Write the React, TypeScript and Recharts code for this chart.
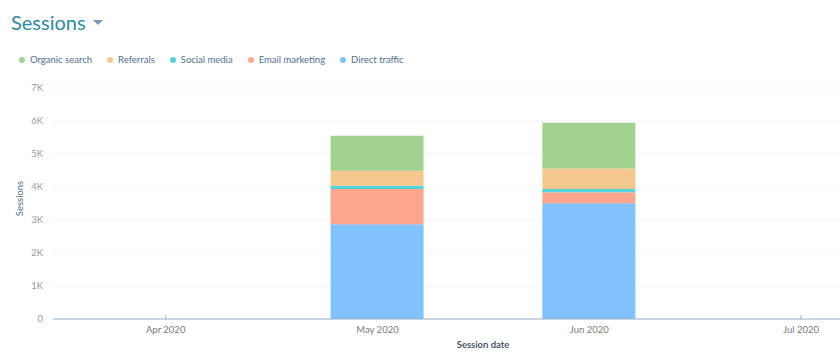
import React from 'react';
import { Bar, BarChart, CartesianGrid, XAxis, YAxis } from 'recharts';

const months = ['Apr 2020', 'May 2020', 'Jun 2020', 'Jul 2020'];
const monthIndex = [0, 1, 2, 3];
const directTraffic = [0, 2870, 3510, 0];
const emailMarketing = [0, 1070, 330, 0];
const socialMedia = [0, 100, 100, 0];
const referrals = [0, 450, 620, 0];
const organicSearch = [0, 1060, 1390, 0];
const yTicks = [0, 1000, 2000, 3000, 4000, 5000, 6000, 7000];

// stacking order, bottom to top
const series = [
  { key: 'direct', name: 'Direct traffic', color: '#81c1fd', values: directTraffic },
  { key: 'email', name: 'Email marketing', color: '#fea58e', values: emailMarketing },
  { key: 'social', name: 'Social media', color: '#51d3d9', values: socialMedia },
  { key: 'referrals', name: 'Referrals', color: '#f5c78e', values: referrals },
  { key: 'organic', name: 'Organic search', color: '#a2d28f', values: organicSearch },
];

const data = monthIndex.map((m, i) => {
  const row: Record<string, number> = { m };
  series.forEach((s) => {
    row[s.key] = s.values[i];
  });
  return row;
});

const font = 'Lato, "Open Sans", sans-serif';

const XTick = (props: any) => {
  const { x, y, payload } = props;
  return (
    <g>
      <line x1={x} x2={x} y1={y - 14} y2={y - 10} stroke="#99afc4" />
      <text x={x} y={y + 4} textAnchor="middle" fill="#7a7a7a" fontSize={9.5} fontFamily={font}>
        {months[payload.value]}
      </text>
    </g>
  );
};

const App: React.FC = () => {
  return (
    <div style={{ position: 'absolute', left: 0, top: 0, width: 840, height: 359, background: '#fff', fontFamily: font }}>
      <div style={{ position: 'absolute', left: 11, top: 9, fontSize: 20, color: '#2e8b9f', fontWeight: 400, lineHeight: '26px' }}>
        Sessions
        <svg width={12} height={8} style={{ marginLeft: 7, verticalAlign: 'middle', marginTop: -4 }}>
          <polygon points="0,1 10,1 5,6" fill="#7c98b6" />
        </svg>
      </div>
      <div style={{ position: 'absolute', left: 19, top: 53, display: 'flex', fontSize: 9.5, color: '#516f90', lineHeight: '14px' }}>
        {[...series].reverse().map((s) => (
          <div key={s.key} style={{ display: 'flex', alignItems: 'center', marginRight: 15 }}>
            <span style={{ width: 6, height: 6, borderRadius: 3, background: s.color, marginRight: 5 }} />
            {s.name}
          </div>
        ))}
      </div>
      <BarChart width={840} height={359} data={data} margin={{ top: 88, right: 0, left: 0, bottom: 0 }} style={{ position: 'absolute', left: 0, top: 0 }}>
        <CartesianGrid vertical={false} stroke="#e8ebf0" strokeDasharray="2 2" />
        <XAxis
          dataKey="m"
          type="number"
          domain={[-0.532, 3.184]}
          ticks={monthIndex}
          allowDataOverflow
          height={40}
          stroke="#99afc4"
          tickLine={false}
          tickSize={0}
          tickMargin={10}
          tick={<XTick />}
          label={{
            content: (p: any) => (
              <text x={483} y={p.viewBox.y + 29} textAnchor="middle" fill="#33475b" fontSize={9.5} fontWeight={600} fontFamily={font}>
                Session date
              </text>
            ),
          }}
        />
        <YAxis
          width={53}
          domain={[0, 7000]}
          ticks={yTicks}
          axisLine={false}
          tickLine={false}
          tickMargin={4}
          tick={{ fill: '#9a9a9a', fontSize: 9.5, fontFamily: font }}
          tickFormatter={(v: number) => (v === 0 ? '0' : `${v / 1000}K`)}
          label={{
            content: (p: any) => (
              <text
                x={21}
                y={p.viewBox.y + p.viewBox.height / 2 - 5}
                textAnchor="middle"
                dominantBaseline="middle"
                transform={`rotate(-90 21 ${p.viewBox.y + p.viewBox.height / 2 - 5})`}
                fill="#516f90"
                fontSize={9.5}
                fontFamily={font}
              >
                Sessions
              </text>
            ),
          }}
        />
        {series.map((s) => (
          <Bar key={s.key} dataKey={s.key} name={s.name} stackId="a" fill={s.color} barSize={93} isAnimationActive={false} />
        ))}
      </BarChart>
    </div>
  );
};

export default App;
